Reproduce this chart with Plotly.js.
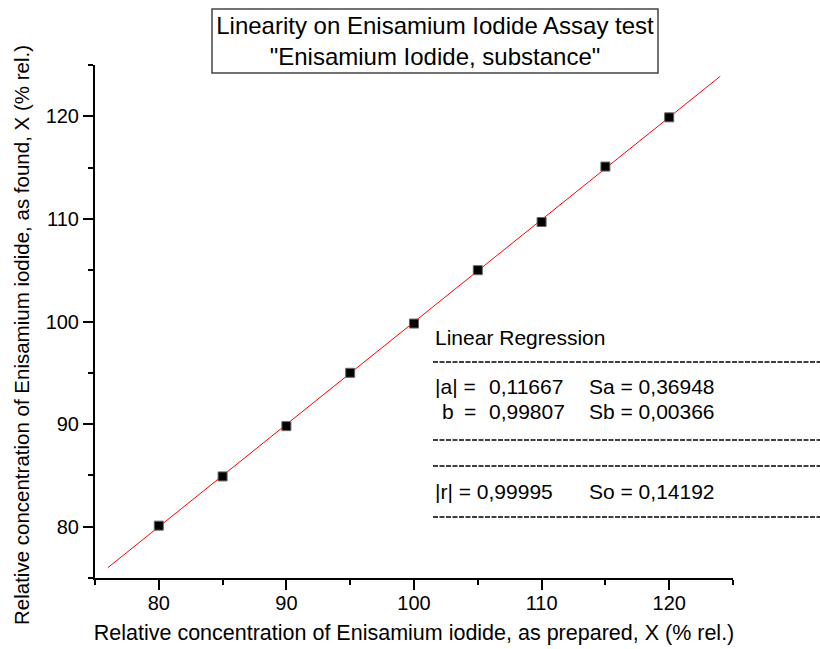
<!DOCTYPE html>
<html>
<head>
<meta charset="utf-8">
<script src="https://cdn.plot.ly/plotly-3.0.1.min.js"></script>
<style>html,body{margin:0;padding:0;background:#fff;}#chart{width:820px;height:649px;}</style>
</head>
<body>
<div id="chart"></div>
<script>
// Data
const preparedX = [80, 85, 90, 95, 100, 105, 110, 115, 120];
const foundY = [80.1, 84.9, 89.8, 95.0, 99.8, 105.0, 109.7, 115.1, 119.9];
const fitX = [76, 124];
const fitY = [76.0, 123.9];
const xTickVals = [80, 90, 100, 110, 120];
const yTickVals = [80, 90, 100, 110, 120];
const regressionLines = [
  ["|a| =", "0,11667", "Sa = 0,36948"],
  ["b", "=", "0,99807", "Sb = 0,00366"],
  ["|r| = 0,99995", "So = 0,14192"]
];

const W = 820, H = 649;
const L = 95, R = 87, T = 65, B = 71;
const PW = W - L - R, PH = H - T - B;
const px = x => (x - L) / PW;          // pixel -> paper x
const py = y => 1 - (y - T) / PH;      // pixel -> paper y

const font = 'Liberation Sans, Arial, sans-serif';

const traces = [
  {
    x: fitX, y: fitY, mode: 'lines', type: 'scatter',
    line: {color: '#ff0000', width: 1}, hoverinfo: 'skip', showlegend: false
  },
  {
    x: preparedX, y: foundY, mode: 'markers', type: 'scatter',
    marker: {symbol: 'square', size: 9, color: '#000', line: {color: '#666', width: 1}},
    showlegend: false
  }
];

const annText = (text, xpx, ypx) => ({
  text: text, xref: 'paper', yref: 'paper', x: px(xpx), y: py(ypx),
  xanchor: 'left', yanchor: 'middle', showarrow: false,
  font: {family: font, size: 21, color: '#000'}
});

const annotations = [
  annText('Linear Regression', 433, 337),
  annText(regressionLines[0][0], 433, 386),
  annText(regressionLines[0][1], 487, 386),
  annText(regressionLines[0][2], 587, 386),
  annText(regressionLines[1][0], 440, 411),
  annText(regressionLines[1][1], 462, 411),
  annText(regressionLines[1][2], 487, 411),
  annText(regressionLines[1][3], 587, 411),
  annText(regressionLines[2][0], 433, 491),
  annText(regressionLines[2][1], 587, 491),
  {
    text: 'Relative concentration of Enisamium iodide, as found, X (% rel.)',
    xref: 'paper', yref: 'paper', x: px(21), y: py(335),
    xanchor: 'center', yanchor: 'middle', textangle: -90, showarrow: false,
    font: {family: font, size: 20.5, color: '#000'}
  }
];

const dashLine = ypx => ({
  type: 'line', xref: 'paper', yref: 'paper',
  x0: px(433), x1: px(822), y0: py(ypx), y1: py(ypx),
  line: {color: '#000', width: 1.5, dash: '5px,1.5px'}
});

const shapes = [
  dashLine(362), dashLine(440), dashLine(466), dashLine(517),
  {
    type: 'rect', xref: 'paper', yref: 'paper',
    x0: px(212), x1: px(658), y0: py(9), y1: py(73),
    line: {color: '#444', width: 1.5}, fillcolor: 'rgba(0,0,0,0)'
  }
];

const axisCommon = {
  range: [75, 125], showgrid: false, zeroline: false,
  showline: true, linecolor: '#000', linewidth: 2,
  ticks: 'outside', ticklen: 10, tickwidth: 2, tickcolor: '#000',
  tickfont: {family: font, size: 20, color: '#000'},
  minor: {dtick: 5, tick0: 75, ticks: 'outside', ticklen: 5, tickwidth: 2, tickcolor: '#000', showgrid: false},
  fixedrange: true
};

const layout = {
  width: W, height: H,
  margin: {l: L, r: R, t: T, b: B},
  paper_bgcolor: '#fff', plot_bgcolor: '#fff',
  font: {family: font, color: '#000'},
  title: {
    text: 'Linearity on Enisamium Iodide Assay test<br>"Enisamium Iodide, substance"',
    font: {family: font, size: 24, color: '#000'},
    x: 435 / W, xanchor: 'center', xref: 'container',
    y: 1 - 34 / H, yanchor: 'middle', yref: 'container'
  },
  xaxis: Object.assign({}, axisCommon, {
    tickvals: xTickVals,
    ticklabelstandoff: -4,
    title: {text: 'Relative concentration of Enisamium iodide, as prepared, X (% rel.)',
      font: {family: font, size: 21.5, color: '#000'}, standoff: 12}
  }),
  yaxis: Object.assign({}, axisCommon, {
    tickvals: yTickVals
  }),
  annotations: annotations,
  shapes: shapes,
  showlegend: false
};

Plotly.newPlot('chart', traces, layout, {displayModeBar: false, staticPlot: true});
</script>
</body>
</html>
